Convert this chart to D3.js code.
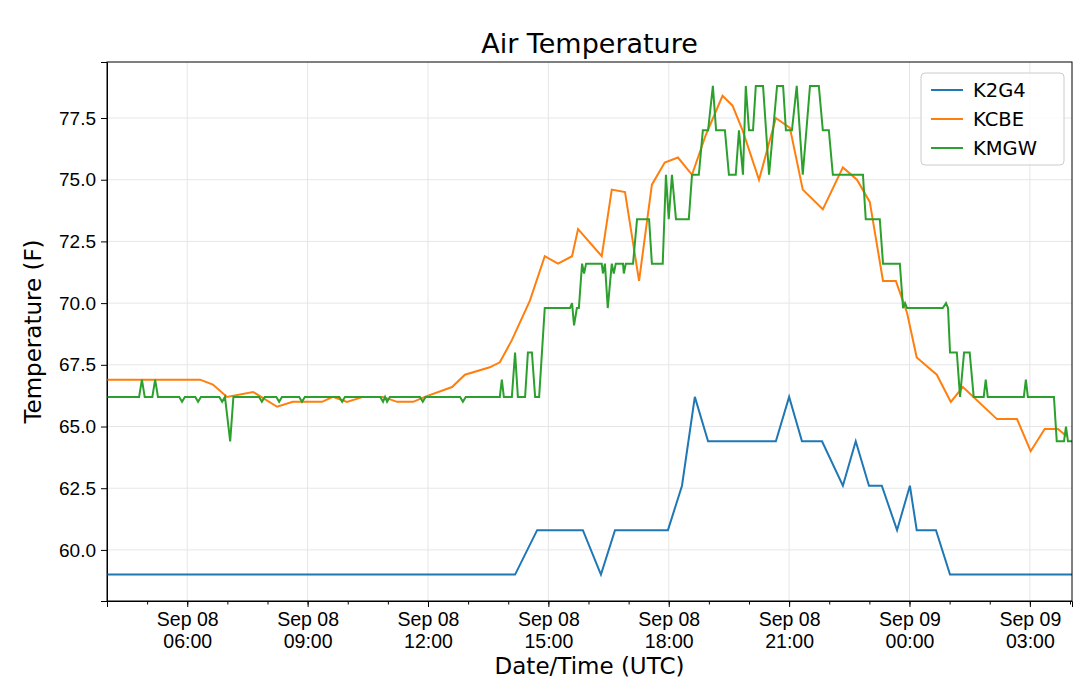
<!DOCTYPE html>
<html><head><meta charset="utf-8">
<script src="https://cdn.jsdelivr.net/npm/d3@7"></script>
<style>body{margin:0;background:#fff}svg{font-family:"DejaVu Sans",sans-serif}</style>
</head><body><svg id="c" width="1080" height="690"></svg>
<script>
// hours since Sep 08 00:00 UTC, temperature (F)
const k2g4Hours=[4,14.17,14.72,15.86,16.31,16.66,17.98,18.33,18.65,18.98,20.67,21.00,21.32,21.82,22.34,22.66,22.99,23.31,23.69,24.01,24.18,24.66,25.01,28.05];
const k2g4Temp=[59,59,60.8,60.8,59,60.8,60.8,62.6,66.2,64.4,64.4,66.2,64.4,64.4,62.6,64.4,62.6,62.6,60.8,62.6,60.8,60.8,59,59];
const kcbeHours=[4,6.32,6.64,6.99,7.64,8.24,8.63,9.36,9.63,9.98,10.38,10.88,11.23,11.63,11.92,12.60,12.92,13.54,13.79,14.09,14.54,14.91,15.24,15.59,15.74,16.33,16.58,16.91,17.26,17.58,17.90,18.23,18.58,18.92,19.34,19.59,19.84,20.25,20.67,21.02,21.34,21.84,22.34,22.69,23.01,23.34,23.66,23.94,24.18,24.68,25.03,25.33,26.18,26.68,27.02,27.37,27.70,27.92];
const kcbeTemp=[66.9,66.9,66.7,66.2,66.4,65.8,66.0,66.0,66.2,66.0,66.2,66.2,66.0,66.0,66.2,66.6,67.1,67.4,67.6,68.5,70.1,71.9,71.6,71.9,73.0,71.9,74.6,74.5,70.9,74.8,75.7,75.9,75.2,76.8,78.4,78.0,77.0,75.0,77.5,77.1,74.6,73.8,75.5,75.0,74.1,70.9,70.9,69.6,67.8,67.1,66.0,66.6,65.3,65.3,64.0,64.9,64.9,64.6];
const kmgwHours=[4,4.80,4.87,4.94,5.13,5.20,5.27,5.80,5.87,5.94,6.20,6.27,6.34,6.80,6.87,6.94,7.07,7.15,7.79,7.86,7.93,8.22,8.29,8.36,8.79,8.86,8.93,9.79,9.86,9.93,10.81,10.88,10.93,10.98,11.05,11.80,11.87,11.94,12.80,12.87,12.94,13.79,13.84,13.89,13.94,14.09,14.17,14.24,14.42,14.49,14.59,14.67,14.77,14.91,15.54,15.59,15.64,15.71,15.76,15.84,15.89,15.94,16.33,16.36,16.41,16.48,16.58,16.63,16.68,16.86,16.88,16.93,17.11,17.21,17.51,17.58,17.85,17.93,18.00,18.08,18.18,18.50,18.58,18.75,18.85,18.98,19.10,19.18,19.40,19.50,19.67,19.75,19.85,19.92,20.00,20.10,20.17,20.35,20.50,20.70,20.85,20.92,21.07,21.19,21.34,21.52,21.74,21.84,21.99,22.09,22.84,22.91,23.26,23.34,23.76,23.84,23.89,23.94,24.83,24.91,24.96,25.01,25.18,25.26,25.36,25.50,25.60,25.85,25.90,25.95,26.85,26.90,26.95,27.60,27.67,27.85,27.90,27.95,28.05];
const kmgwTemp=[66.2,66.2,66.9,66.2,66.2,66.9,66.2,66.2,66.0,66.2,66.2,66.0,66.2,66.2,66.0,66.2,64.4,66.2,66.2,66.0,66.2,66.2,66.0,66.2,66.2,66.0,66.2,66.2,66.0,66.2,66.2,66.0,66.2,66.0,66.2,66.2,66.0,66.2,66.2,66.0,66.2,66.2,66.9,66.2,66.2,66.2,68.0,66.2,66.2,68.0,68.0,66.2,66.2,69.8,69.8,70.0,69.1,69.8,69.8,71.6,71.2,71.6,71.6,71.2,71.6,69.8,71.6,71.2,71.6,71.6,71.2,71.6,71.6,73.4,73.4,71.6,71.6,75.2,73.4,75.2,73.4,73.4,75.2,75.2,77.0,77.0,78.8,77.0,77.0,75.2,75.2,77.0,75.2,78.8,77.0,77.0,78.8,78.8,75.2,78.8,78.8,77.0,77.0,78.8,75.2,78.8,78.8,77.0,77.0,75.2,75.2,73.4,73.4,71.6,71.6,69.8,70.0,69.8,69.8,70.0,69.8,68.0,68.0,66.2,68.0,68.0,66.2,66.2,66.9,66.2,66.2,66.9,66.2,66.2,64.4,64.4,65.0,64.4,64.4];
const seriesNames=["K2G4","KCBE","KMGW"];
const colors=["#1f77b4","#ff7f0e","#2ca02c"];
const yTicks=[60.0,62.5,65.0,67.5,70.0,72.5,75.0,77.5];

const base=Date.UTC(2019,8,8);
const toDate=h=>new Date(base+h*3600e3);
const svg=d3.select("#c");
const L=107,R=1072,T=62,B=601;
const x=d3.scaleUtc().domain([toDate(4),toDate(28.05)]).range([L,R]);
const y=d3.scaleLinear().domain([57.93,79.77]).range([B,T]);
const major=d3.utcHour.every(3).range(toDate(4),toDate(28.1)).filter(d=>d.getUTCHours()%3===0);
const minor=d3.utcHour.every(1).range(toDate(4),toDate(28.1));
const g=svg.append("g");
g.selectAll(".gx").data(major).join("line").attr("x1",d=>x(d)).attr("x2",d=>x(d)).attr("y1",T).attr("y2",B).attr("stroke","#e6e6e6");
g.selectAll(".gy").data(yTicks).join("line").attr("y1",d=>y(d)).attr("y2",d=>y(d)).attr("x1",L).attr("x2",R).attr("stroke","#e6e6e6");
const fmtD=d3.utcFormat("%b %d"),fmtT=d3.utcFormat("%H:%M");
const xa=svg.append("g").attr("transform",`translate(0,${B})`).call(d3.axisBottom(x).tickValues(major).tickSize(6).tickFormat(""));
svg.append("g").attr("transform",`translate(0,${B})`).call(d3.axisBottom(x).tickValues(minor).tickSize(3.5).tickFormat("")).select(".domain").remove();
xa.selectAll(".tick").each(function(d){const t=d3.select(this).append("text").attr("fill","#000").attr("font-size",19.5).attr("text-anchor","middle");
 t.append("tspan").attr("x",0).attr("y",25).text(fmtD(d));t.append("tspan").attr("x",0).attr("y",47).text(fmtT(d));});
const ya=svg.append("g").attr("transform",`translate(${L},0)`).call(d3.axisLeft(y).tickValues(yTicks).tickSize(6).tickFormat(d3.format(".1f")));
ya.selectAll("text").attr("font-size",19).attr("fill","#000").attr("dx","-2");
svg.selectAll(".domain").attr("stroke","#000");
svg.selectAll(".tick line").attr("stroke","#000");
const data=[[k2g4Hours,k2g4Temp],[kcbeHours,kcbeTemp],[kmgwHours,kmgwTemp]];
const line=d3.line().x(d=>x(toDate(d[0]))).y(d=>y(d[1]));
data.forEach(([h,t],i)=>{svg.append("path").datum(h.map((v,j)=>[v,t[j]])).attr("d",line).attr("fill","none").attr("stroke",colors[i]).attr("stroke-width",2);});
svg.append("rect").attr("x",L).attr("y",T).attr("width",R-L).attr("height",B-T).attr("fill","none").attr("stroke","#000");
svg.append("text").attr("x",(L+R)/2).attr("y",53).attr("text-anchor","middle").attr("font-size",27).text("Air Temperature");
svg.append("text").attr("x",(L+R)/2).attr("y",674).attr("text-anchor","middle").attr("font-size",23).text("Date/Time (UTC)");
svg.append("text").attr("transform",`translate(41,${(T+B)/2}) rotate(-90)`).attr("text-anchor","middle").attr("font-size",23).text("Temperature (F)");
const lg=svg.append("g").attr("transform","translate(921,73)");
lg.append("rect").attr("width",143).attr("height",92).attr("rx",4).attr("fill","#fff").attr("fill-opacity",0.8).attr("stroke","#ccc");
seriesNames.forEach((n,i)=>{const yy=17+i*29;
 lg.append("line").attr("x1",10).attr("x2",42).attr("y1",yy).attr("y2",yy).attr("stroke",colors[i]).attr("stroke-width",2);
 lg.append("text").attr("x",52).attr("y",yy+7).attr("font-size",19.5).text(n);});
</script></body></html>
